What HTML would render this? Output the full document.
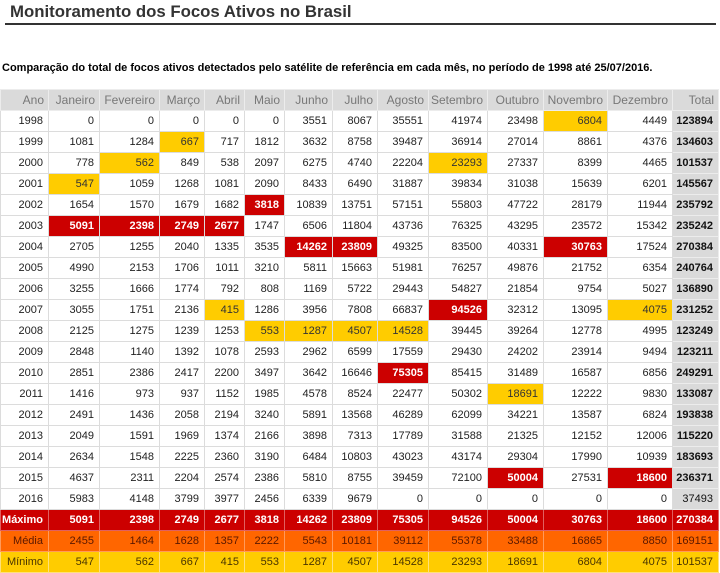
<!DOCTYPE html>
<html><head><meta charset="utf-8">
<style>
html,body{margin:0;padding:0;background:#fff;width:720px;height:573px;overflow:hidden;position:relative;font-family:"Liberation Sans",Arial,sans-serif;}
#title{position:absolute;left:10px;top:2px;font-size:16.8px;line-height:20px;font-weight:bold;color:#333;white-space:nowrap;}
#rule{position:absolute;left:5px;top:23px;width:711px;height:2px;background:#333;}
#sub{position:absolute;left:2px;top:61px;font-size:11px;line-height:14px;font-weight:bold;color:#000;white-space:nowrap;}
table{position:absolute;left:0;top:89px;border-collapse:collapse;table-layout:fixed;width:718px;font-size:11px;}
tr{height:21px;}
td,th{padding:0 5px 0 0;text-align:right;border:1px solid #dcdcdc;color:#222;white-space:nowrap;overflow:hidden;line-height:12px;}
th{background:#dadada;color:#777;font-weight:normal;font-size:12px;border-color:#ececec;padding-right:4px;}
td.t{background:#dadada;font-weight:bold;color:#111;border-color:#ececec;}
td.tn{background:#dadada;color:#111;border-color:#ececec;}
.r{background:#cc0000 !important;color:#fff !important;font-weight:bold;}
.y{background:#ffcc00;color:#333;}
tr.mx td{background:#cc0000;color:#fff;font-weight:bold;border-color:#e06060;}
tr.md td{background:#ff6600;color:#5a1800;border-color:#ff9a5a;}
tr.mn td{background:#ffcc00;color:#4a3500;border-color:#ffe07a;}
</style></head><body>
<div id="title">Monitoramento dos Focos Ativos no Brasil</div>
<div id="rule"></div>
<div id="sub">Comparação do total de focos ativos detectados pelo satélite de referência em cada mês, no período de 1998 até 25/07/2016.</div>
<table>
<colgroup><col style="width:48px"><col style="width:51px"><col style="width:60px"><col style="width:45px"><col style="width:40px"><col style="width:40px"><col style="width:48px"><col style="width:45px"><col style="width:51px"><col style="width:59px"><col style="width:56px"><col style="width:64px"><col style="width:65px"><col style="width:46px"></colgroup>
<tr><th>Ano</th><th>Janeiro</th><th>Fevereiro</th><th>Março</th><th>Abril</th><th>Maio</th><th>Junho</th><th>Julho</th><th>Agosto</th><th>Setembro</th><th>Outubro</th><th>Novembro</th><th>Dezembro</th><th>Total</th></tr>
<tr><td>1998</td><td>0</td><td>0</td><td>0</td><td>0</td><td>0</td><td>3551</td><td>8067</td><td>35551</td><td>41974</td><td>23498</td><td class="y">6804</td><td>4449</td><td class="t">123894</td></tr>
<tr><td>1999</td><td>1081</td><td>1284</td><td class="y">667</td><td>717</td><td>1812</td><td>3632</td><td>8758</td><td>39487</td><td>36914</td><td>27014</td><td>8861</td><td>4376</td><td class="t">134603</td></tr>
<tr><td>2000</td><td>778</td><td class="y">562</td><td>849</td><td>538</td><td>2097</td><td>6275</td><td>4740</td><td>22204</td><td class="y">23293</td><td>27337</td><td>8399</td><td>4465</td><td class="t">101537</td></tr>
<tr><td>2001</td><td class="y">547</td><td>1059</td><td>1268</td><td>1081</td><td>2090</td><td>8433</td><td>6490</td><td>31887</td><td>39834</td><td>31038</td><td>15639</td><td>6201</td><td class="t">145567</td></tr>
<tr><td>2002</td><td>1654</td><td>1570</td><td>1679</td><td>1682</td><td class="r">3818</td><td>10839</td><td>13751</td><td>57151</td><td>55803</td><td>47722</td><td>28179</td><td>11944</td><td class="t">235792</td></tr>
<tr><td>2003</td><td class="r">5091</td><td class="r">2398</td><td class="r">2749</td><td class="r">2677</td><td>1747</td><td>6506</td><td>11804</td><td>43736</td><td>76325</td><td>43295</td><td>23572</td><td>15342</td><td class="t">235242</td></tr>
<tr><td>2004</td><td>2705</td><td>1255</td><td>2040</td><td>1335</td><td>3535</td><td class="r">14262</td><td class="r">23809</td><td>49325</td><td>83500</td><td>40331</td><td class="r">30763</td><td>17524</td><td class="t">270384</td></tr>
<tr><td>2005</td><td>4990</td><td>2153</td><td>1706</td><td>1011</td><td>3210</td><td>5811</td><td>15663</td><td>51981</td><td>76257</td><td>49876</td><td>21752</td><td>6354</td><td class="t">240764</td></tr>
<tr><td>2006</td><td>3255</td><td>1666</td><td>1774</td><td>792</td><td>808</td><td>1169</td><td>5722</td><td>29443</td><td>54827</td><td>21854</td><td>9754</td><td>5027</td><td class="t">136890</td></tr>
<tr><td>2007</td><td>3055</td><td>1751</td><td>2136</td><td class="y">415</td><td>1286</td><td>3956</td><td>7808</td><td>66837</td><td class="r">94526</td><td>32312</td><td>13095</td><td class="y">4075</td><td class="t">231252</td></tr>
<tr><td>2008</td><td>2125</td><td>1275</td><td>1239</td><td>1253</td><td class="y">553</td><td class="y">1287</td><td class="y">4507</td><td class="y">14528</td><td>39445</td><td>39264</td><td>12778</td><td>4995</td><td class="t">123249</td></tr>
<tr><td>2009</td><td>2848</td><td>1140</td><td>1392</td><td>1078</td><td>2593</td><td>2962</td><td>6599</td><td>17559</td><td>29430</td><td>24202</td><td>23914</td><td>9494</td><td class="t">123211</td></tr>
<tr><td>2010</td><td>2851</td><td>2386</td><td>2417</td><td>2200</td><td>3497</td><td>3642</td><td>16646</td><td class="r">75305</td><td>85415</td><td>31489</td><td>16587</td><td>6856</td><td class="t">249291</td></tr>
<tr><td>2011</td><td>1416</td><td>973</td><td>937</td><td>1152</td><td>1985</td><td>4578</td><td>8524</td><td>22477</td><td>50302</td><td class="y">18691</td><td>12222</td><td>9830</td><td class="t">133087</td></tr>
<tr><td>2012</td><td>2491</td><td>1436</td><td>2058</td><td>2194</td><td>3240</td><td>5891</td><td>13568</td><td>46289</td><td>62099</td><td>34221</td><td>13587</td><td>6824</td><td class="t">193838</td></tr>
<tr><td>2013</td><td>2049</td><td>1591</td><td>1969</td><td>1374</td><td>2166</td><td>3898</td><td>7313</td><td>17789</td><td>31588</td><td>21325</td><td>12152</td><td>12006</td><td class="t">115220</td></tr>
<tr><td>2014</td><td>2634</td><td>1548</td><td>2225</td><td>2360</td><td>3190</td><td>6484</td><td>10803</td><td>43023</td><td>43174</td><td>29304</td><td>17990</td><td>10939</td><td class="t">183693</td></tr>
<tr><td>2015</td><td>4637</td><td>2311</td><td>2204</td><td>2574</td><td>2386</td><td>5810</td><td>8755</td><td>39459</td><td>72100</td><td class="r">50004</td><td>27531</td><td class="r">18600</td><td class="t">236371</td></tr>
<tr><td>2016</td><td>5983</td><td>4148</td><td>3799</td><td>3977</td><td>2456</td><td>6339</td><td>9679</td><td>0</td><td>0</td><td>0</td><td>0</td><td>0</td><td class="tn">37493</td></tr>
<tr class="mx"><td>Máximo</td><td>5091</td><td>2398</td><td>2749</td><td>2677</td><td>3818</td><td>14262</td><td>23809</td><td>75305</td><td>94526</td><td>50004</td><td>30763</td><td>18600</td><td>270384</td></tr>
<tr class="md"><td>Média</td><td>2455</td><td>1464</td><td>1628</td><td>1357</td><td>2222</td><td>5543</td><td>10181</td><td>39112</td><td>55378</td><td>33488</td><td>16865</td><td>8850</td><td>169151</td></tr>
<tr class="mn"><td>Mínimo</td><td>547</td><td>562</td><td>667</td><td>415</td><td>553</td><td>1287</td><td>4507</td><td>14528</td><td>23293</td><td>18691</td><td>6804</td><td>4075</td><td>101537</td></tr>
</table>
</body></html>
